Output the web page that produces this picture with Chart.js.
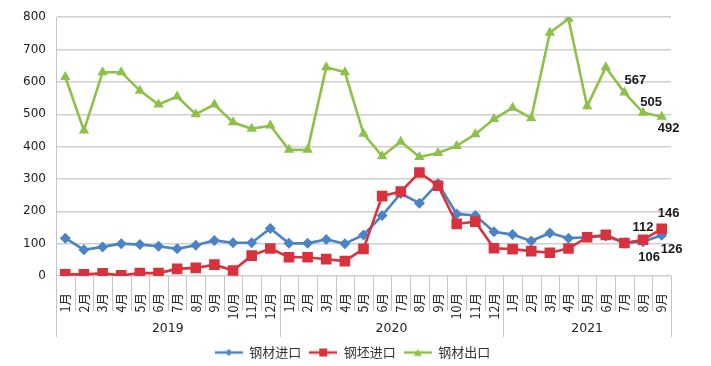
<!doctype html>
<html lang="zh">
<head>
<meta charset="utf-8">
<script src="https://cdn.jsdelivr.net/npm/chart.js@4.4.1/dist/chart.umd.min.js"></script>
<style>
    html, body { margin: 0; padding: 0; background: #fff; }
    #wrap { width: 711px; height: 366px; }
</style>
</head>
<body>
<div id="wrap"><canvas id="chart"></canvas></div>
<script>
    // months Jan 2019 .. Sep 2021
    const months = ['1月','2月','3月','4月','5月','6月','7月','8月','9月','10月','11月','12月',
                    '1月','2月','3月','4月','5月','6月','7月','8月','9月','10月','11月','12月',
                    '1月','2月','3月','4月','5月','6月','7月','8月','9月'];
    const years = ['2019', '2020', '2021'];
    const yearLengths = [12, 12, 9];

    const steelImport = [117, 81, 90, 100, 97, 92, 84, 95, 110, 103, 103, 147,
                         101, 101, 113, 100, 127, 187, 255, 225, 286, 192, 187, 137,
                         128, 108, 133, 117, 120, 124, 102, 106, 126];
    const billetImport = [5, 5, 8, 2, 9, 9, 22, 25, 35, 17, 63, 85,
                          58, 58, 52, 46, 84, 247, 261, 320, 279, 161, 168, 86,
                          83, 77, 72, 85, 120, 127, 102, 112, 146];
    const steelExport = [615, 450, 630, 630, 573, 530, 555, 500, 530, 475, 455, 465,
                         390, 390, 645, 630, 440, 370, 415, 368, 380, 402, 438, 485,
                         520, 488, 752, 795, 525, 645, 567, 505, 492];

    const seriesNames = ['钢材进口', '钢坯进口', '钢材出口'];
    const colors = ['#4a84c4', '#d8323e', '#8dc14a'];

    // value labels shown at the end: [dataset, index, dx, dy]
    const valueLabels = [
        [2, 30, 11, -12], [2, 31, 8, -10], [2, 32, 7, 12],
        [1, 31, 0, -12], [1, 32, 7, -15],
        [0, 31, 6, 16], [0, 32, 10, 14]
    ];

    const numFont = 'DejaVu Sans, "Noto Sans CJK SC", sans-serif';
    const cjkFont = '"Noto Sans CJK SC", DejaVu Sans, sans-serif';

    function legendIcon(color, style) {
        const c = document.createElement('canvas');
        c.width = 28; c.height = 12;
        const g = c.getContext('2d');
        g.strokeStyle = color; g.fillStyle = color; g.lineWidth = 2.5;
        g.beginPath(); g.moveTo(0, 6); g.lineTo(28, 6); g.stroke();
        g.beginPath();
        if (style === 'rectRot') {
            g.moveTo(14, 2.5); g.lineTo(17.5, 6); g.lineTo(14, 9.5); g.lineTo(10.5, 6);
        } else if (style === 'rect') {
            g.rect(10, 2, 8, 8);
        } else {
            g.moveTo(14, 2.5); g.lineTo(18, 9.5); g.lineTo(10, 9.5);
        }
        g.closePath(); g.fill();
        return c;
    }

    const styles = ['rectRot', 'rect', 'triangle'];
    const icons = styles.map((s, i) => legendIcon(colors[i], s));

    const groupPlugin = {
        id: 'groups',
        beforeDraw(chart) {
            // legend sits centred under the whole picture, not the plot
            const lg = chart.legend;
            if (lg && !lg._moved) {
                lg.left += 17; lg.right += 17;
                lg.top += 3; lg.bottom += 3;
                lg._moved = true;
            }
        },
        afterDraw(chart) {
            const ctx = chart.ctx;
            const x = chart.scales.x;
            const bottom = chart.chartArea.bottom;
            const step = x.getPixelForValue(1) - x.getPixelForValue(0);
            ctx.save();
            ctx.strokeStyle = '#c4c4c4';
            ctx.lineWidth = 1;
            let yearStarts = [0];
            yearLengths.forEach(n => yearStarts.push(yearStarts[yearStarts.length - 1] + n));
            for (let i = 0; i <= months.length; i++) {
                const px = Math.round(x.getPixelForValue(0) - step / 2 + i * step) + 0.5;
                const isYear = yearStarts.includes(i);
                ctx.beginPath();
                ctx.moveTo(px, bottom);
                ctx.lineTo(px, bottom + (isYear ? 61 : 35));
                ctx.stroke();
            }
            ctx.fillStyle = '#222';
            ctx.font = '12.5px ' + numFont;
            ctx.textAlign = 'center';
            ctx.textBaseline = 'middle';
            years.forEach((yr, k) => {
                const a = x.getPixelForValue(yearStarts[k]) - step / 2;
                const b = x.getPixelForValue(yearStarts[k + 1] - 1) + step / 2;
                ctx.fillText(yr, (a + b) / 2, bottom + 53);
            });
            ctx.restore();
        },
        afterDatasetsDraw(chart) {
            const ctx = chart.ctx;
            ctx.save();
            ctx.fillStyle = '#1a1a1a';
            ctx.font = 'bold 13px "Liberation Sans", sans-serif';
            ctx.textAlign = 'center';
            ctx.textBaseline = 'middle';
            valueLabels.forEach(([d, i, dx, dy]) => {
                const el = chart.getDatasetMeta(d).data[i];
                const v = chart.data.datasets[d].data[i];
                ctx.fillText(String(v), el.x + dx, el.y + dy);
            });
            ctx.restore();
        }
    };

    const chart = new Chart(document.getElementById('chart'), {
        type: 'line',
        data: {
            labels: months,
            datasets: [
                {
                    label: seriesNames[0], data: steelImport,
                    borderColor: colors[0], backgroundColor: colors[0],
                    pointStyle: 'rectRot', pointRadius: 5.5, order: 2
                },
                {
                    label: seriesNames[1], data: billetImport,
                    borderColor: colors[1], backgroundColor: colors[1],
                    pointStyle: 'rect', pointRadius: 7.5, order: 1
                },
                {
                    label: seriesNames[2], data: steelExport,
                    borderColor: colors[2], backgroundColor: colors[2],
                    pointStyle: 'triangle', pointRadius: 6, order: 0
                }
            ]
        },
        options: {
            responsive: true,
            maintainAspectRatio: false,
            animation: false,
            devicePixelRatio: 1,
            layout: { padding: { top: 14, right: 40, left: 0, bottom: 0 } },
            elements: {
                line: { borderWidth: 2.6, tension: 0 },
                point: { borderWidth: 0, hoverRadius: 6 }
            },
            scales: {
                x: {
                    offset: true,
                    grid: { display: false },
                    border: { display: false },
                    ticks: {
                        autoSkip: false, minRotation: 90, maxRotation: 90,
                        padding: 9, color: '#222',
                        font: { size: 12.5, family: cjkFont }
                    },
                    afterFit(s) { s.height = 59; }
                },
                y: {
                    min: 0, max: 800,
                    grid: { color: '#cfcfcf', lineWidth: 1.5, drawTicks: false },
                    border: { color: '#c4c4c4', width: 1 },
                    ticks: {
                        stepSize: 100, padding: 10, color: '#222',
                        font: { size: 12, family: numFont }
                    },
                    afterFit(s) { s.width = 56; }
                }
            },
            plugins: {
                tooltip: { enabled: false },
                legend: {
                    position: 'bottom',
                    labels: {
                        usePointStyle: true,
                        pointStyleWidth: 28,
                        padding: 8,
                        color: '#333',
                        font: { size: 13, family: cjkFont },
                        sort: (a, b) => a.datasetIndex - b.datasetIndex,
                        generateLabels(chart) {
                            const items = Chart.defaults.plugins.legend.labels.generateLabels(chart);
                            items.forEach(it => {
                                it.pointStyle = icons[it.datasetIndex];
                                it.rotation = 0;
                            });
                            return items;
                        }
                    }
                }
            }
        },
        plugins: [groupPlugin]
    });
</script>
</body>
</html>
